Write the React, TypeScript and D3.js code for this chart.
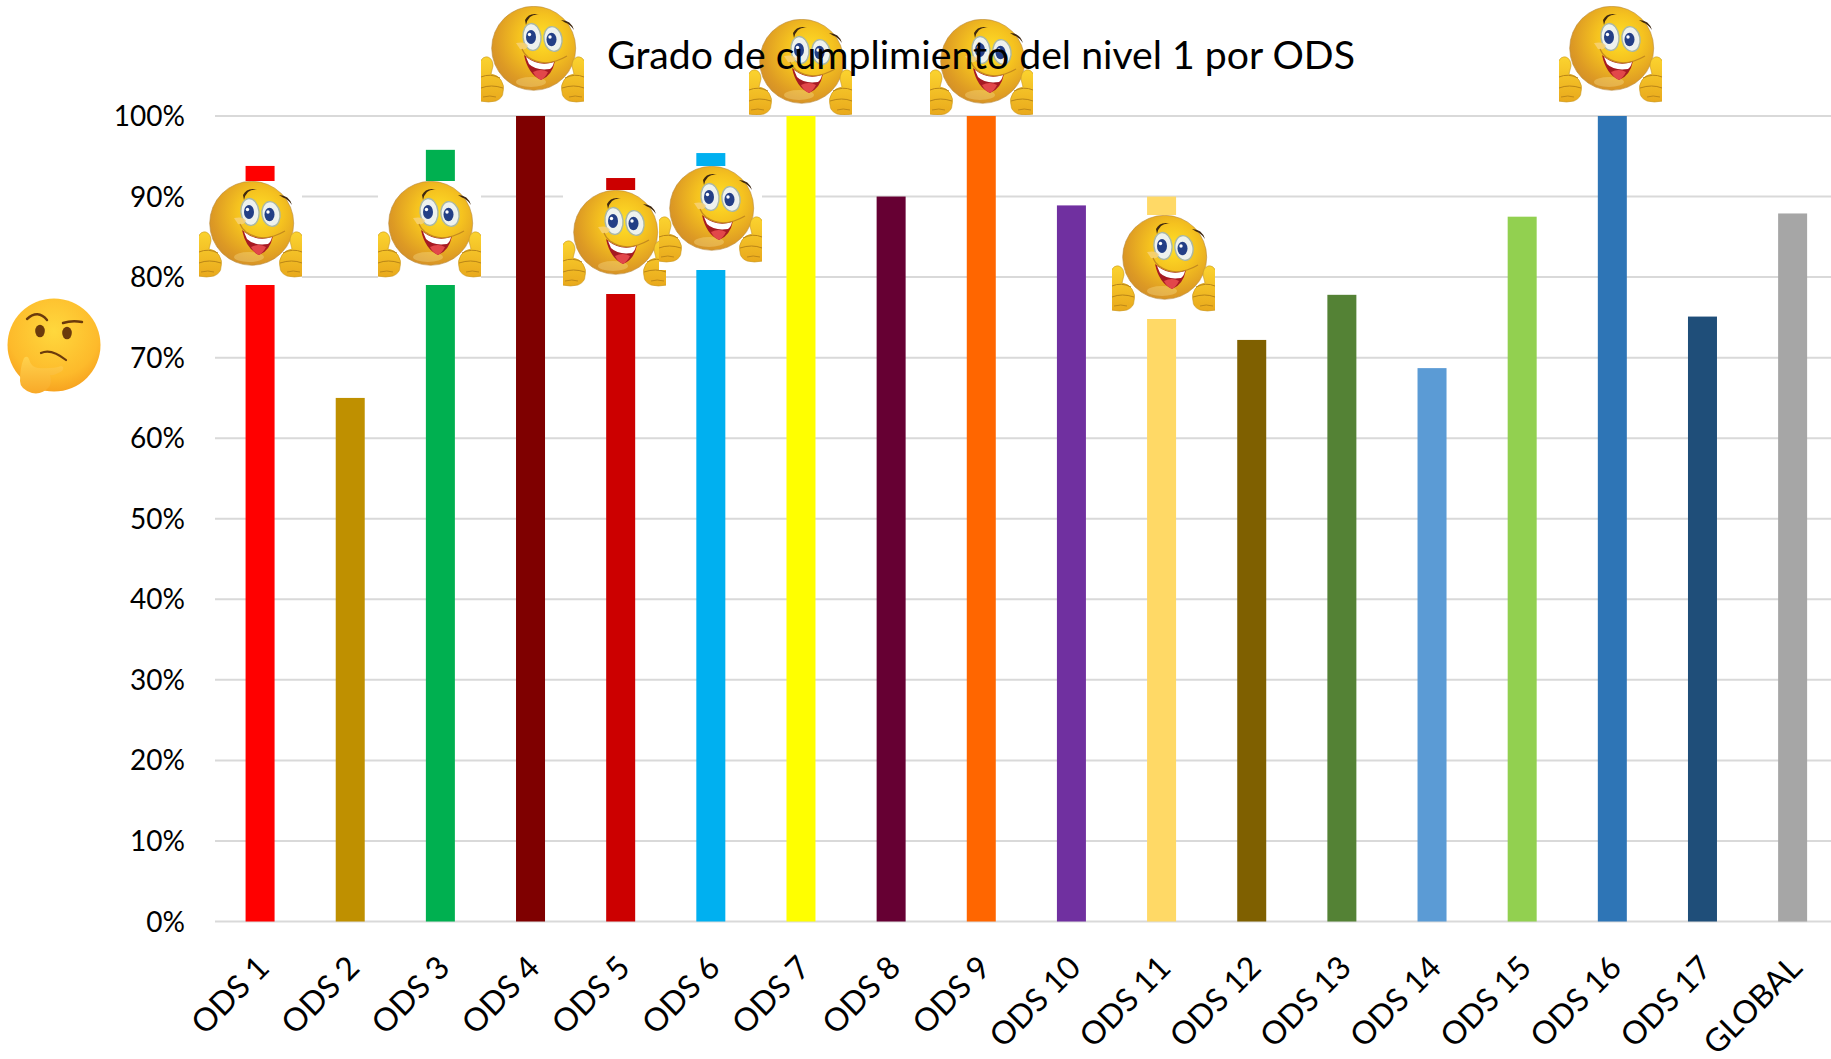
import React, { useId } from "react";
import * as d3 from "d3";

const categories = ["ODS 1","ODS 2","ODS 3","ODS 4","ODS 5","ODS 6","ODS 7","ODS 8","ODS 9","ODS 10","ODS 11","ODS 12","ODS 13","ODS 14","ODS 15","ODS 16","ODS 17","GLOBAL"];
const values = [93.8,65,95.8,100,92.3,95.4,100,90,100,88.9,90,72.2,77.8,68.7,87.5,100,75.1,87.9];
const barColors = ["#ff0000","#bf9000","#00b050","#7f0000","#cc0000","#00b0f0","#ffff00","#660033","#ff6600","#7030a0","#ffd966","#7f6000","#548235","#5b9bd5","#92d050","#2e75b6","#1f4e79","#a6a6a6"];
const ticks = [0,10,20,30,40,50,60,70,80,90,100];
const titleText = "Grado de cumplimiento del nivel 1 por ODS";
const smileyCorners: [number, number][] = [[199,181],[378,181],[481,6],[563,190],[659,166],[749,19],[930,19],[1112,215],[1559,6]];

const W = 1831, H = 1059;
const FONT = "Lato, 'Open Sans', sans-serif";
const x = d3.scaleBand<string>().domain(categories).range([215, 215 + 18 * 90.15]);
const y = d3.scaleLinear().domain([0, 100]).range([921.5, 116]);
const barW = 29;

function Hand({ mirror, id }: { mirror?: boolean; id: string }) {
  const fill = `url(#${id}h)`;
  return (
    <g transform={mirror ? "translate(103,0) scale(-1,1)" : undefined}>
      <path d="M-1 56 Q2 50 7 51 Q12 53 12 60 Q11 64 10 68 Q17 69 20 74 Q24 80 22 86 Q22 92 15 95 Q8 97 -1 95Z" fill={fill} stroke="#c8951f" strokeWidth={0.6} />
      <path d="M0 71 Q9 67 19 72" fill="none" stroke="#b98518" strokeWidth={1} />
      <path d="M0 82 Q10 78 22 82" fill="none" stroke="#b98518" strokeWidth={1} />
      <path d="M2 91 Q9 89 15 91" fill="none" stroke="#b98518" strokeWidth={0.9} />
    </g>
  );
}

function Smiley({ x: px, y: py, h = 104 }: { x: number; y: number; h?: number }) {
  const id = useId().replace(/[^a-z0-9]/gi, "");
  return (
    <g transform={`translate(${px},${py})`}>
      <defs>
        <radialGradient id={id + "f"} cx="0.6" cy="0.38" r="0.7">
          <stop offset="0" stopColor="#ffe028" />
          <stop offset="0.4" stopColor="#f5c21f" />
          <stop offset="0.8" stopColor="#dd9a24" />
          <stop offset="1" stopColor="#d08d2a" />
        </radialGradient>
        <linearGradient id={id + "h"} x1="0" y1="0" x2="0" y2="1">
          <stop offset="0" stopColor="#fbd32f" />
          <stop offset="1" stopColor="#e9a91c" />
        </linearGradient>
        <clipPath id={id + "c"}><rect x={0} y={0} width={103} height={h} /></clipPath>
      </defs>
      <rect x={0} y={0} width={103} height={h} fill="#fff" />
      <g clipPath={`url(#${id}c)`}>
        <circle cx={52.7} cy={42.3} r={42} fill={`url(#${id}f)`} stroke="#b98a3c" strokeWidth={0.6} />
        <ellipse cx={50} cy={76} rx={15} ry={5} fill="#fff3b0" opacity={0.28} />
        <ellipse cx={51} cy={31} rx={9} ry={13.5} fill="#eef2ee" stroke="#a9b7a6" strokeWidth={1.4} transform="rotate(-6 51 31)" />
        <ellipse cx={72} cy={33} rx={9} ry={12.5} fill="#eef2ee" stroke="#a9b7a6" strokeWidth={1.4} transform="rotate(-10 72 33)" />
        <ellipse cx={50} cy={31} rx={5} ry={7} fill="#233f86" />
        <ellipse cx={70.5} cy={33.5} rx={5} ry={6.8} fill="#233f86" />
        <circle cx={48.5} cy={28.5} r={1.7} fill="#fff" />
        <circle cx={69} cy={31} r={1.7} fill="#fff" />
        <path d="M44 14 Q48 6 58 8.5 Q52 8 49 11 Q46 14 45 19Z" fill="#3f2810" />
        <path d="M80 14 Q90 14 93 24 Q89 18 84 16.5Z" fill="#3f2810" />
        <path d="M43 49 Q58 61 74 55 Q71 70 60 74 Q47 68 43 49Z" fill="#a61a22" />
        <path d="M45 51 Q58 61 73 56 Q72 61 69 63 Q55 65 48 58Z" fill="#fff" />
        <path d="M52 66 Q60 62 67 66 Q64 72 60 74 Q55 72 52 66Z" fill="#e2474a" />
        <path d="M35 37 Q45 35 47 40 Q44 45 39 43Z" fill="#f8d27a" opacity={0.8} />
        <path d="M41 43 Q43 48 47 51 Q60 60 75 55 Q81 53 86 50" fill="none" stroke="#c38a1e" strokeWidth={1.3} />
        <Hand id={id} />
        <Hand id={id} mirror />
      </g>
    </g>
  );
}

function Thinking() {
  return (
    <g transform="translate(54,345)">
      <defs>
        <radialGradient id="thk" cx="0.5" cy="0.35" r="0.7">
          <stop offset="0" stopColor="#ffd83d" />
          <stop offset="0.7" stopColor="#fdba2b" />
          <stop offset="1" stopColor="#f59c1c" />
        </radialGradient>
        <linearGradient id="thh" x1="0" y1="0" x2="0" y2="1">
          <stop offset="0" stopColor="#ffd24d" />
          <stop offset="1" stopColor="#f8a928" />
        </linearGradient>
      </defs>
      <circle cx={0} cy={0} r={46.5} fill="url(#thk)" />
      <path d="M-27 -26 Q-16 -36 -7 -25" fill="none" stroke="#6b3a0c" strokeWidth={2.4} strokeLinecap="round" />
      <path d="M9 -22 Q18 -25 28 -23" fill="none" stroke="#6b3a0c" strokeWidth={2.4} strokeLinecap="round" />
      <ellipse cx={-14} cy={-14} rx={4.8} ry={6.3} fill="#6b3a0c" />
      <ellipse cx={13} cy={-12} rx={4.8} ry={6.3} fill="#6b3a0c" />
      <path d="M-13 8 Q-3 3 12 15" fill="none" stroke="#6b3a0c" strokeWidth={2.2} strokeLinecap="round" />
      <path d="M-30 13 Q-26 9 -24 17 Q-22 22 -16 23 Q0 24 7 21 Q11 22 8 26 Q0 31 -4 30 Q-2 38 -5 42 Q-12 50 -22 48 Q-34 44 -34 36 Q-34 22 -30 13Z" fill="url(#thh)" />
    </g>
  );
}

export default function App() {
  return (
    <svg width={W} height={H} viewBox={`0 0 ${W} ${H}`} style={{ position: "absolute", left: 0, top: 0, background: "#fff" }} fontFamily={FONT}>
      {ticks.map((t) => (
        <line key={t} x1={215} x2={W} y1={y(t)} y2={y(t)} stroke="#d9d9d9" strokeWidth={2} />
      ))}
      {ticks.map((t) => (
        <text key={t} x={185} y={y(t)} dy="0.36em" textAnchor="end" fontSize={28} fill="#000">{t}%</text>
      ))}
      {categories.map((c, i) => {
        const cx = x(c)! + x.bandwidth() / 2;
        return <rect key={c} x={cx - barW / 2} y={y(values[i])} width={barW} height={y(0) - y(values[i])} fill={barColors[i]} />;
      })}
      {categories.map((c) => {
        const cx = x(c)! + x.bandwidth() / 2;
        return (
          <text key={c} transform={`translate(${cx + 3},${y(0) + 40}) rotate(-45)`} textAnchor="end" fontSize={32} dy="0.36em" fill="#000">{c}</text>
        );
      })}
      {smileyCorners.map(([sx, sy], i) => (
        <Smiley key={i} x={sx} y={sy} h={sy === 19 ? 96 : 104} />
      ))}
      <Thinking />
      <text x={981} y={55} dy="0.36em" textAnchor="middle" fontSize={39.2} fill="#000">{titleText}</text>
    </svg>
  );
}
